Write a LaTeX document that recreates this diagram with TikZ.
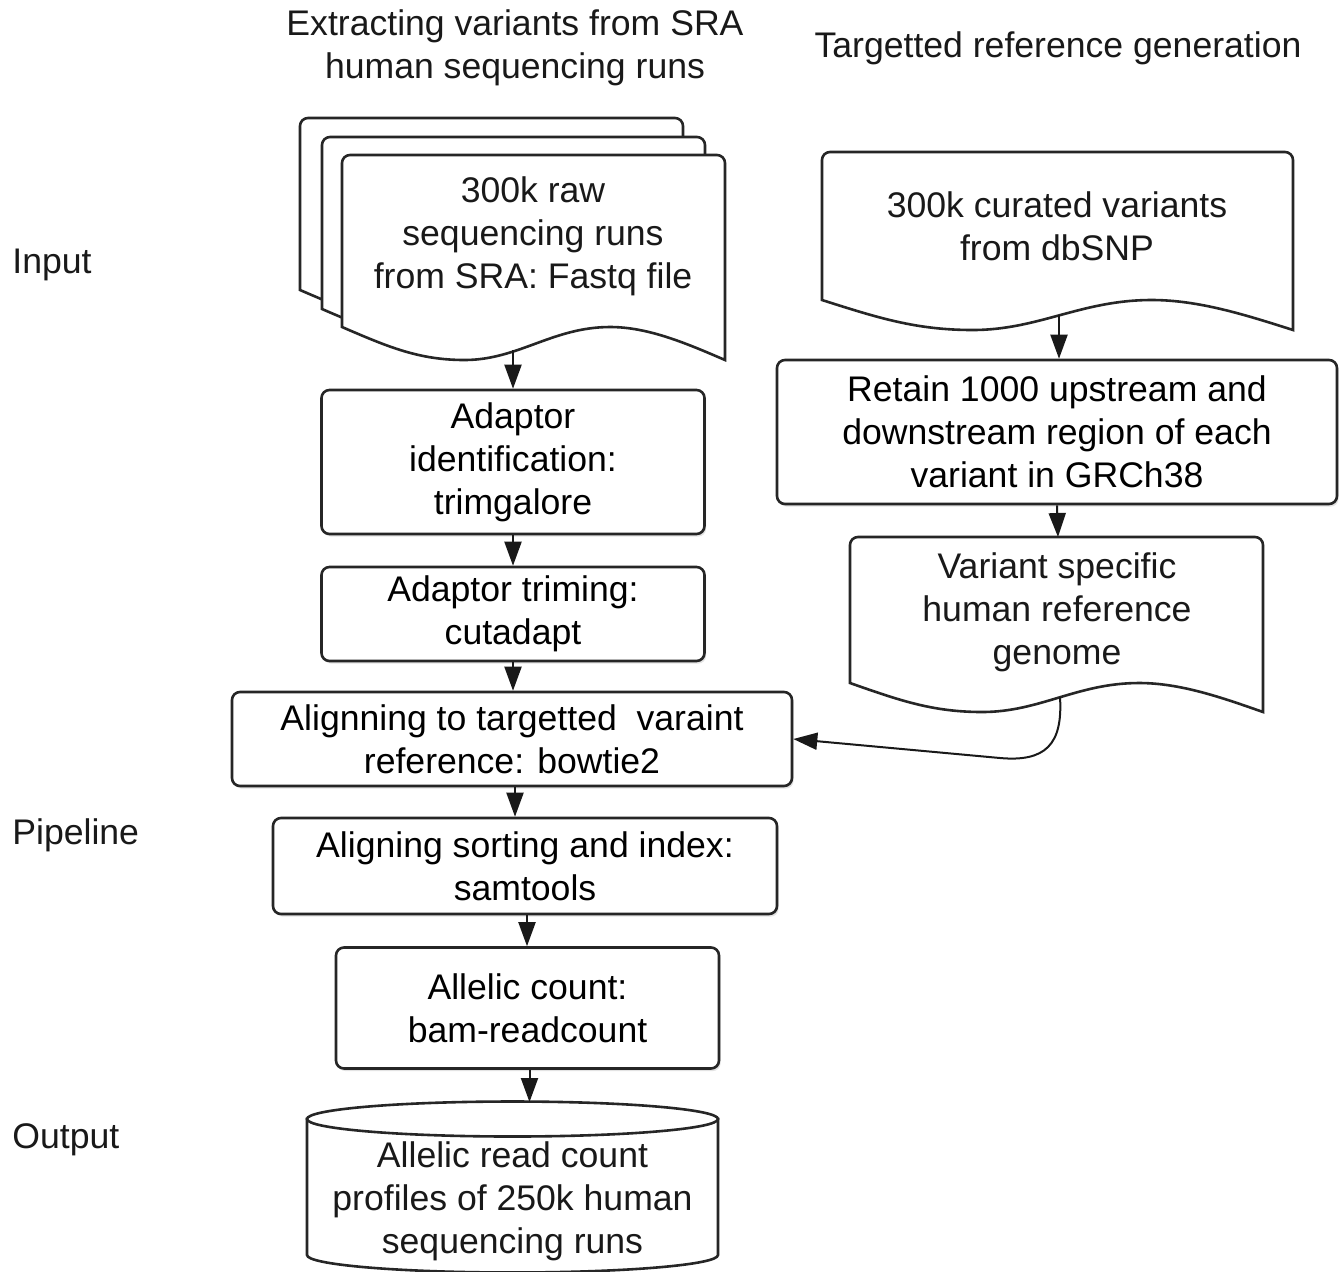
\documentclass[tikz,border=0pt]{standalone}
\usepackage{fontspec}
\setmainfont{Liberation Sans}
\usetikzlibrary{arrows.meta,shadows}
\newcommand\fs{\fontsize{17.8}{21.5}\selectfont}
\newcommand{\docshape}[5]{% x y w L A
\path[docline] (#1,{#2+#4}) -- (#1,{#2+8}) .. controls (#1,{#2+3.6}) and ({#1+3.6},#2) .. ({#1+8},#2) -- ({#1+#3-8},#2) .. controls ({#1+#3-3.6},#2) and ({#1+#3},{#2+3.6}) .. ({#1+#3},{#2+8}) -- ({#1+#3},{#2+#4+#5}) .. controls ({#1+0.9*#3},{#2+#4+0.5*#5}) and ({#1+0.8*#3},{#2+#4}) .. ({#1+0.7*#3},{#2+#4}) .. controls ({#1+0.55*#3},{#2+#4}) and ({#1+0.46*#3},{#2+#4+#5}) .. ({#1+0.32*#3},{#2+#4+#5}) .. controls ({#1+0.2*#3},{#2+#4+#5}) and ({#1+0.12*#3},{#2+#4+0.6*#5}) .. (#1,{#2+#4}) -- cycle;}
\tikzset{
  box/.style={draw=black!85, line width=1.3pt, rounded corners=4pt, fill=white,
    align=center, inner sep=0pt, font=\fs,
    drop shadow={opacity=0.22, shadow xshift=0.8pt, shadow yshift=-1.3pt}},
  lbl/.style={align=center, inner sep=0pt, font=\fs, text=black!90},
  arr/.style={line width=1pt, draw=black!90, -{Triangle[length=12pt,width=8.5pt]}},
  docline/.style={draw=black!85, line width=1.3pt, fill=white},
}
\begin{document}
\begin{tikzpicture}[x=0.5pt,y=-0.5pt]
\useasboundingbox (0,0) rectangle (1344,1271);
\fill[white] (0,0) rectangle (1344,1271);

% titles and row labels
\node[lbl] (t1) at (515,48) {Extracting variants from SRA\\human sequencing runs};
\node[lbl] (t2) at (1058,48) {Targetted reference generation};
\node[lbl, anchor=west] (lin) at (12,265) {Input};
\node[lbl, anchor=west] (lpi) at (12,835) {Pipeline};
\node[lbl, anchor=west] (lout) at (12,1140) {Output};

% stacked documents
\docshape{300}{118}{383}{172}{33}
\docshape{322}{137}{383}{172}{33}
\docshape{342}{155}{383}{172}{33}
\node[lbl] (raw) at (533,236) {300k raw\\sequencing runs\\from SRA: Fastq file};
\coordinate (rawb) at (513,350);

% right documents
\docshape{822}{152}{471}{148}{30}
\node[lbl] (dbsnp) at (1057,226) {300k curated variants\\from dbSNP};
\coordinate (dbsnpb) at (1059,315);

\docshape{850}{537}{413}{146}{29}
\node[lbl] (vref) at (1057,612) {Variant specific\\human reference\\genome};
\coordinate (vreft) at (1058,537);
\coordinate (vrefb) at (1060,697);

% boxes
\node[box, minimum width=191.5pt, minimum height=72pt] (adapt) at (513,462) {Adaptor\\identification:\\trimgalore};
\node[box, minimum width=191.5pt, minimum height=47pt] (trim) at (513,614) {Adaptor triming:\\cutadapt};
\node[box, minimum width=280pt, minimum height=47pt] (align) at (512,739) {Alignning to targetted\ \ varaint\\reference: bowtie2};
\node[box, minimum width=252pt, minimum height=48pt] (sort) at (525,866) {Aligning sorting and index:\\samtools};
\node[box, minimum width=191.5pt, minimum height=60.5pt] (count) at (527.5,1008) {Allelic count:\\bam-readcount};
\node[box, minimum width=280pt, minimum height=72pt] (retain) at (1057,432) {Retain 1000 upstream and\\downstream region of each\\variant in GRCh38};

% cylinder
\path[docline] (307,1119) -- (307,1255) .. controls (307,1264.7) and (399,1272.5) .. (512.5,1272.5) .. controls (626,1272.5) and (718,1264.7) .. (718,1255) -- (718,1119) -- cycle;
\draw[docline] (512.5,1119) ellipse [x radius=102.75pt, y radius=8.75pt];
\node[lbl] (out) at (512.5,1201) {Allelic read count\\profiles of 250k human\\sequencing runs};
\coordinate (cyltop) at (530,1102);

% connectors
\draw[arr] (rawb) -- (rawb |- adapt.north);
\draw[arr] (adapt.south) -- (trim.north);
\draw[arr] (trim.south) -- (trim.south |- align.north);
\draw[arr] ([xshift=1.5pt]align.south) -- ([xshift=1.5pt]align.south |- sort.north);
\draw[arr] ([xshift=1pt]sort.south) -- ([xshift=1pt]sort.south |- count.north);
\draw[arr] ([xshift=1pt]count.south) -- ([xshift=1pt]count.south |- cyltop);
\draw[arr] (dbsnpb) -- (dbsnpb |- retain.north);
\draw[arr] (retain.south) -- (vreft);
\draw[arr] (vrefb) .. controls (1063,745) and (1045,762) .. (1000,758) -- (align.east);
\end{tikzpicture}
\end{document}
